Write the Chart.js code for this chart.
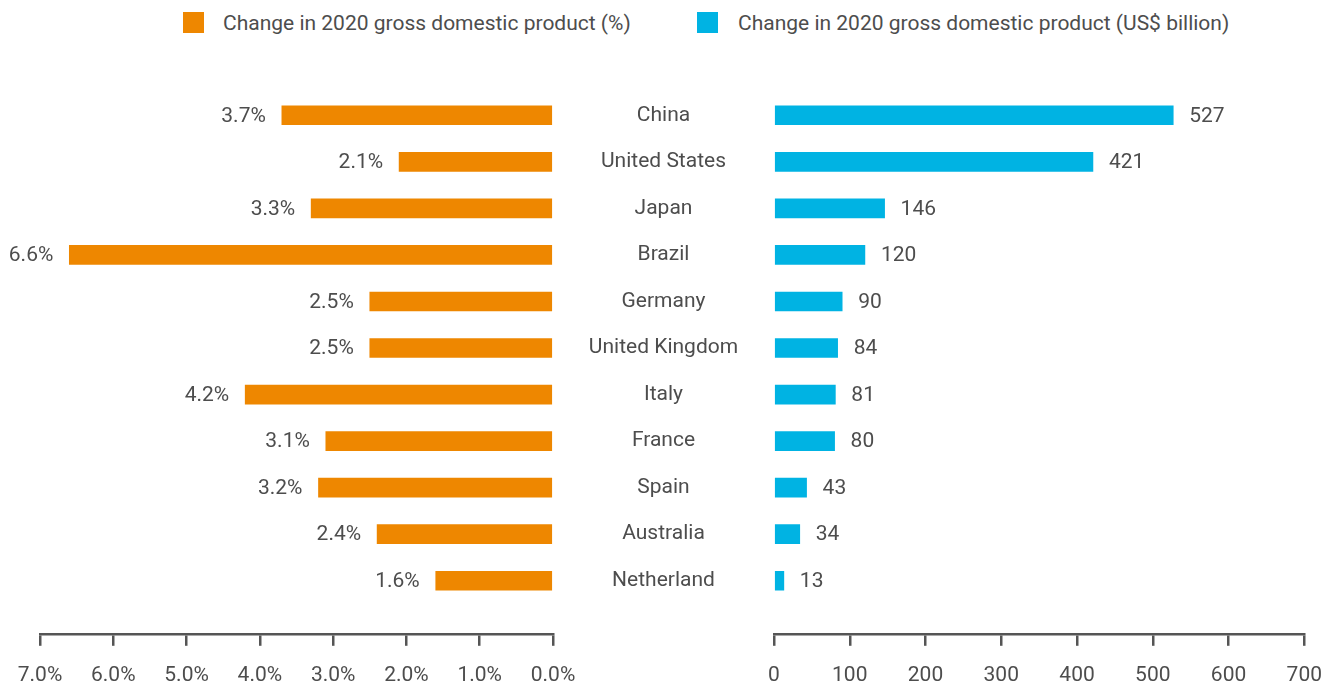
<!DOCTYPE html>
<html>
<head>
<meta charset="utf-8">
<script src="https://cdn.jsdelivr.net/npm/chart.js@4/dist/chart.umd.min.js"></script>
<style>
  html, body { margin: 0; padding: 0; background: #fff; }
  body { width: 1339px; height: 687px; position: relative; overflow: hidden; font-family: Roboto, sans-serif; }
  #left { position: absolute; left: 0; top: 0; }
  #right { position: absolute; left: 553px; top: 0; }
  .legend { position: absolute; top: 12px; height: 22px; line-height: 22px; font-size: 21px; color: #4d4d4d; white-space: nowrap; }
  .swatch { position: absolute; top: 12px; width: 21px; height: 21px; }
</style>
</head>
<body>
<div class="swatch" style="left:183px;background:#EE8700"></div>
<div class="legend" style="left:223px">Change in 2020 gross domestic product (%)</div>
<div class="swatch" style="left:697px;background:#00B3E3"></div>
<div class="legend" style="left:738px">Change in 2020 gross domestic product (US$ billion)</div>
<canvas id="left" width="600" height="705"></canvas>
<canvas id="right" width="786" height="705"></canvas>
<script>
// Countries, top to bottom
const countries = ['China', 'United States', 'Japan', 'Brazil', 'Germany', 'United Kingdom', 'Italy', 'France', 'Spain', 'Australia', 'Netherland'];
// Change in 2020 GDP, percent
const gdpPct = [3.7, 2.1, 3.3, 6.6, 2.5, 2.5, 4.2, 3.1, 3.2, 2.4, 1.6];
// Change in 2020 GDP, US$ billion
const gdpUsd = [527, 421, 146, 120, 90, 84, 81, 80, 43, 34, 13];
// Axis tick values
const pctTicks = [0, 1, 2, 3, 4, 5, 6, 7];
const usdTicks = [0, 100, 200, 300, 400, 500, 600, 700];

const ORANGE = '#EE8700';
const BLUE = '#00B3E3';
const TEXT = '#4d4d4d';
const AXIS = '#555555';
const FONT = { family: 'Roboto', size: 21 };

Chart.defaults.font.family = 'Roboto';
Chart.defaults.color = TEXT;

// Value labels drawn at the outer end of each bar
function valueLabels(side, fmt) {
  return {
    id: 'valueLabels_' + side,
    afterDatasetsDraw(chart) {
      const ctx = chart.ctx;
      const meta = chart.getDatasetMeta(0);
      const data = chart.data.datasets[0].data;
      ctx.save();
      ctx.font = FONT.size + 'px ' + FONT.family;
      ctx.fillStyle = TEXT;
      ctx.textBaseline = 'middle';
      ctx.textAlign = side === 'left' ? 'right' : 'left';
      meta.data.forEach((bar, i) => {
        const x = side === 'left' ? bar.x - 16 : bar.x + 16;
        ctx.fillText(fmt(data[i].x), x, bar.y + 1);
      });
      ctx.restore();
    }
  };
}

function xAxis(min, max, reverse, ticks, fmt) {
  return {
    type: 'linear',
    position: 'bottom',
    min, max, reverse,
    afterBuildTicks(scale) { scale.ticks = ticks.map(v => ({ value: v })); },
    grid: { display: true, drawOnChartArea: false, drawTicks: true, tickLength: 12, color: AXIS, lineWidth: 2.5 },
    border: { display: true, color: AXIS, width: 2.5 },
    ticks: { font: FONT, color: TEXT, padding: 17, maxRotation: 0, autoSkip: false, callback: fmt }
  };
}

// Shared vertical index axis: row i sits at value i
const Y_MIN = -0.5, Y_MAX = 11.14;

// Width of the widest country name, so the labels sit centred in the gap
const mctx = document.createElement('canvas').getContext('2d');
mctx.font = FONT.size + 'px ' + FONT.family;
const widest = Math.max(...countries.map(c => mctx.measureText(c).width));
const GAP = 221;
const labelPad = (GAP - widest) / 2;

new Chart(document.getElementById('left'), {
  type: 'bar',
  data: {
    datasets: [{
      data: gdpPct.map((v, i) => ({ x: v, y: i })),
      backgroundColor: ORANGE,
      barThickness: 19
    }]
  },
  options: {
    responsive: false,
    animation: false,
    indexAxis: 'y',
    layout: { padding: { left: 40, right: 47, top: 92, bottom: 0 } },
    plugins: { legend: { display: false }, tooltip: { enabled: false } },
    scales: {
      x: xAxis(0, 7, true, pctTicks, v => v.toFixed(1) + '%'),
      y: { type: 'linear', display: false, offset: false, min: Y_MIN, max: Y_MAX, reverse: true, bounds: 'data' }
    }
  },
  plugins: [valueLabels('left', v => v.toFixed(1) + '%')]
});

new Chart(document.getElementById('right'), {
  type: 'bar',
  data: {
    datasets: [{
      data: gdpUsd.map((v, i) => ({ x: v, y: i })),
      backgroundColor: BLUE,
      barThickness: 19
    }]
  },
  options: {
    responsive: false,
    animation: false,
    indexAxis: 'y',
    layout: { padding: { left: 0, right: 33, top: 92, bottom: 0 } },
    plugins: { legend: { display: false }, tooltip: { enabled: false } },
    scales: {
      x: xAxis(0, 700, false, usdTicks, v => String(v)),
      y: {
        type: 'linear', position: 'left', offset: false, min: Y_MIN, max: Y_MAX, reverse: true, bounds: 'data',
        afterBuildTicks(scale) { scale.ticks = countries.map((_, i) => ({ value: i })); },
        grid: { display: false, drawTicks: false },
        border: { display: false },
        ticks: { font: FONT, color: TEXT, padding: labelPad, crossAlign: 'center', autoSkip: false, callback: v => countries[v] }
      }
    }
  },
  plugins: [valueLabels('right', v => String(v))]
});
</script>
</body>
</html>
